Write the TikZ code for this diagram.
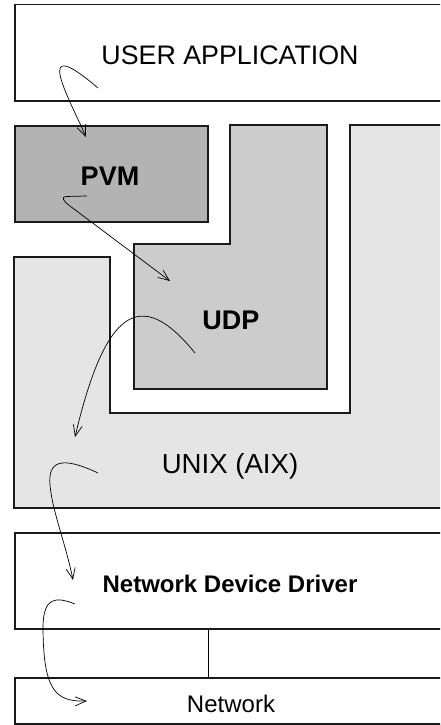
\documentclass[tikz,border=0pt]{standalone}
\usepackage{fontspec}
\setmainfont{Liberation Sans}
\usetikzlibrary{arrows.meta}
\definecolor{pvmgray}{HTML}{B3B3B3}
\definecolor{udpgray}{HTML}{CCCCCC}
\definecolor{unixgray}{HTML}{E5E5E5}
\definecolor{edge}{HTML}{1A1A1A}
\begin{document}
\begin{tikzpicture}[x=1pt,y=-1pt,
  box/.style={draw=edge, line width=1.5pt, inner sep=0pt, anchor=north west},
  flow/.style={line width=0.7pt, -{Straight Barb[length=11pt,width=9pt]}},
  lbl/.style={inner sep=0pt, anchor=base, font=\fontsize{26.8}{30}\selectfont},
  blbl/.style={lbl, font=\fontsize{27}{30}\selectfont\bfseries},
  ]
\useasboundingbox (0,0) rectangle (440,725);
\clip (0,0) rectangle (440,725);
\fill[white] (0,0) rectangle (440,725);

% boxes
\node[box, fill=white, minimum width=438, minimum height=96] (appbox) at (14,4) {};
\node[box, fill=pvmgray, minimum width=193, minimum height=96] (pvmbox) at (14,125) {};
\draw[draw=edge, line width=1.5pt, fill=udpgray]
  (230,125) -- (327,125) -- (327,389) -- (134,389) -- (134,244) -- (230,244) -- cycle;
\draw[draw=edge, line width=1.5pt, fill=unixgray]
  (14,257) -- (110,257) -- (110,413) -- (350,413) -- (350,125) -- (452,125) -- (452,508) -- (14,508) -- cycle;
\node[box, fill=white, minimum width=438, minimum height=96] (nddbox) at (14,532) {};
\node[box, fill=white, minimum width=438, minimum height=46] (netbox) at (14,677) {};
\draw[line width=0.8pt] (nddbox.south -| pvmbox.east) -- (netbox.north -| pvmbox.east);

% labels
\node[lbl] (app) at (230,65) {USER APPLICATION};
\node[blbl] (pvm) at (110,185) {PVM};
\node[blbl] (udp) at (231,329) {UDP};
\node[lbl, font=\fontsize{27.6}{30}\selectfont] (unix) at (230,473) {UNIX (AIX)};
\node[blbl, font=\fontsize{24}{28}\selectfont\bfseries] (ndd) at (230,592) {Network Device Driver};
\node[lbl, font=\fontsize{24}{28}\selectfont] (net) at (231,712) {Network};

% flow coordinates
\coordinate (f1s) at (98,88);   \coordinate (f1e) at (86,137);
\coordinate (f2s) at (87,196);  \coordinate (f2e) at (170,281);
\coordinate (f3s) at (195,353); \coordinate (f3e) at (75,437);
\coordinate (f4s) at (98,473);  \coordinate (f4e) at (73,580);
\coordinate (f5s) at (75,604);  \coordinate (f5e) at (87,701);

\draw[flow] (f1s) .. controls (30,30) and (70,100) .. (f1e);
\draw[flow] (f2s) -- (66,196.5) .. controls (61,197) and (63,201) .. (70,206) -- (f2e);
\draw[flow] (f3s) .. controls (140,285) and (105,310) .. (f3e);
\draw[flow] (f4s) .. controls (60,455) and (48,462) .. (50,485) .. controls (52,510) and (66,545) .. (f4e);
\draw[flow] (f5s) .. controls (55,596) and (44,598) .. (43,625) .. controls (43,690) and (55,702) .. (f5e);
\end{tikzpicture}
\end{document}
